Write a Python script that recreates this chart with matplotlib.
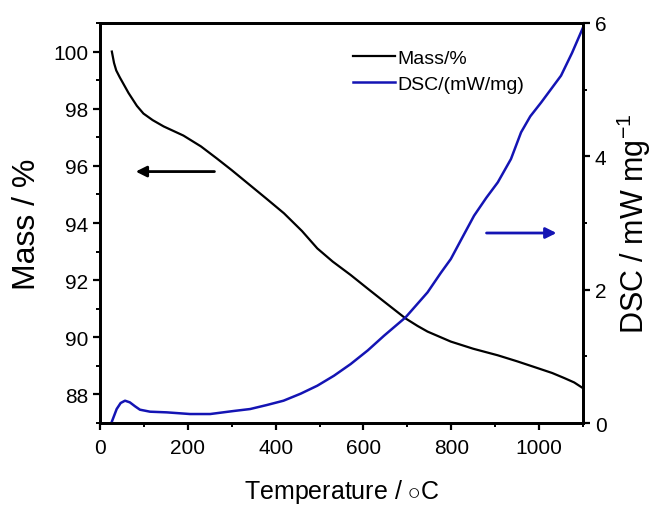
import numpy as np
import matplotlib
matplotlib.use('Agg')
import matplotlib.pyplot as plt
from matplotlib.ticker import MultipleLocator

plt.rcParams['font.family'] = ['Liberation Sans', 'DejaVu Sans']
plt.rcParams['mathtext.fontset'] = 'custom'
plt.rcParams['mathtext.rm'] = 'Liberation Sans'

# Mass curve (temperature in C, mass in %)
mass_t = [27, 32, 37, 45, 53, 65, 84, 99, 120, 145, 190, 230, 266, 300, 342, 380, 419, 460,
          495, 530, 571, 610, 647, 696, 723, 746, 799, 850, 906, 950, 997, 1030, 1058, 1080, 1100]
mass_v = [100.0, 99.6, 99.34, 99.1, 98.88, 98.55, 98.1, 97.83, 97.6, 97.38, 97.06, 96.68, 96.26,
          95.85, 95.32, 94.84, 94.34, 93.72, 93.11, 92.65, 92.18, 91.7, 91.25, 90.66, 90.4, 90.2,
          89.85, 89.6, 89.37, 89.16, 88.92, 88.75, 88.57, 88.42, 88.22]

# DSC curve (temperature in C, mW/mg)
dsc_t = [27, 38, 47, 57, 68, 80, 91, 114, 152, 205, 251, 304, 342, 380, 418, 457, 495, 533,
         571, 610, 647, 696, 746, 776, 799, 825, 852, 880, 906, 936, 959, 980, 1005, 1050, 1075, 1100]
dsc_v = [0.02, 0.21, 0.30, 0.335, 0.31, 0.25, 0.20, 0.17, 0.16, 0.135, 0.135, 0.18, 0.21, 0.27,
         0.335, 0.44, 0.56, 0.71, 0.885, 1.09, 1.31, 1.585, 1.96, 2.25, 2.46, 2.78, 3.11, 3.38,
         3.61, 3.96, 4.36, 4.6, 4.81, 5.21, 5.55, 5.93]

blue = '#1414b4'

fig = plt.figure(figsize=(6.6, 5.06), dpi=100)
ax = fig.add_axes([0.1515, 0.162, 0.7318, 0.7906])
ax2 = ax.twinx()

l1, = ax.plot(mass_t, mass_v, color='black', lw=1.6, label='Mass/%')
l2, = ax2.plot(dsc_t, dsc_v, color=blue, lw=1.8, label='DSC/(mW/mg)')

ax.set_xlim(0, 1100)
ax.set_ylim(87, 101)
ax2.set_ylim(0, 6)

ax.xaxis.set_major_locator(MultipleLocator(200))
ax.xaxis.set_minor_locator(MultipleLocator(100))
ax.yaxis.set_major_locator(MultipleLocator(2))
ax.yaxis.set_minor_locator(MultipleLocator(1))
ax2.yaxis.set_major_locator(MultipleLocator(2))
ax2.yaxis.set_minor_locator(MultipleLocator(1))

for a in (ax, ax2):
    for s in a.spines.values():
        s.set_linewidth(2)
    a.tick_params(which='major', direction='out', length=5, width=1.6, labelsize=15)
    a.tick_params(which='minor', direction='out', length=3, width=1.4)
ax.tick_params(axis='x', which='major', pad=6)

ax.set_xlabel('Temperature / $\\circ$C', fontsize=18, labelpad=14)
ax.set_ylabel('Mass / %', fontsize=23, labelpad=8)
ax2.set_ylabel('DSC / mW mg$^{-1}$', fontsize=22, rotation=90, labelpad=6)

ax.annotate('', xy=(75, 95.8), xytext=(267, 95.8),
            arrowprops=dict(arrowstyle='-|>', color='black', lw=2, mutation_scale=16))
ax2.annotate('', xy=(1046, 2.85), xytext=(874, 2.85),
             arrowprops=dict(arrowstyle='-|>', color=blue, lw=2, mutation_scale=16))

ax.legend(handles=[l1, l2], loc='upper left', bbox_to_anchor=(0.524, 0.935), frameon=False,
          fontsize=14, handlelength=2.15, handletextpad=0.15, labelspacing=0.45,
          borderpad=0, borderaxespad=0)

fig.savefig('out.png', dpi=100)
